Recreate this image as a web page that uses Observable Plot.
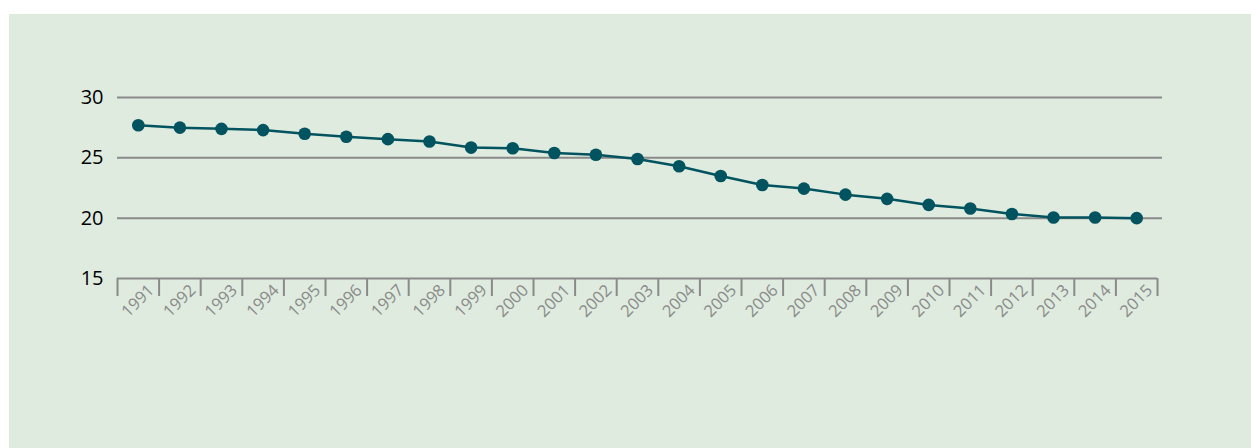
<!DOCTYPE html>
<html>
<head>
<meta charset="utf-8">
<script src="https://cdn.jsdelivr.net/npm/d3@7"></script>
<script src="https://cdn.jsdelivr.net/npm/@observablehq/plot@0.6"></script>
<style>
  html, body { margin: 0; padding: 0; background: #ffffff; }
  #panel { position: absolute; left: 9px; top: 14px; width: 1242px; height: 434px; background: #deebde; overflow: hidden; }
  #panel svg { display: block; }
</style>
</head>
<body>
<div id="panel"></div>
<script>
const years = [1991,1992,1993,1994,1995,1996,1997,1998,1999,2000,2001,2002,2003,2004,2005,2006,2007,2008,2009,2010,2011,2012,2013,2014,2015];
const values = [27.7,27.5,27.4,27.3,27.0,26.75,26.55,26.35,25.85,25.8,25.4,25.25,24.9,24.3,23.5,22.75,22.45,21.95,21.6,21.1,20.8,20.35,20.05,20.05,20.0];
const yTicks = [15,20,25,30];
const gridValues = [20,25,30];

const data = years.map((y, i) => ({year: y, value: values[i]}));
const boundaries = [...years.map(y => y - 0.5), years[years.length - 1] + 0.5];

const teal = "#00535f";
const grey = "#8a8a8a";

const chart = Plot.plot({
  width: 1242,
  height: 434,
  marginLeft: 108,
  marginRight: 89,
  marginTop: 83,
  marginBottom: 170,
  style: {background: "transparent", fontFamily: "'Open Sans', 'Noto Sans', sans-serif"},
  x: {type: "linear", domain: [boundaries[0], boundaries[boundaries.length - 1]], range: [108, 1148], label: null},
  y: {domain: [15, 30], label: null},
  marks: [
    Plot.ruleY(gridValues, {stroke: grey, strokeWidth: 2}),
    Plot.ruleY([15], {x1: boundaries[0], x2: boundaries[boundaries.length - 1], stroke: grey, strokeWidth: 2}),
    Plot.axisX(boundaries, {tickSize: 18, tickFormat: () => "", stroke: grey, strokeWidth: 2, strokeOpacity: 1, label: null}),
    Plot.axisX(years, {tickSize: 0, tickPadding: 9, tickRotate: -45, tickFormat: d => String(d), fill: grey, fontSize: 16.5, dx: 13, label: null}),
    Plot.axisY(yTicks, {tickSize: 0, tickPadding: 14, fontSize: 20, fontWeight: 500, fill: "#000", tickFormat: d => String(d), label: null}),
    Plot.line(data, {x: "year", y: "value", stroke: teal, strokeWidth: 2.5}),
    Plot.dot(data, {x: "year", y: "value", r: 6.3, fill: teal, stroke: "none"})
  ]
});
document.getElementById("panel").appendChild(chart);
</script>
</body>
</html>
